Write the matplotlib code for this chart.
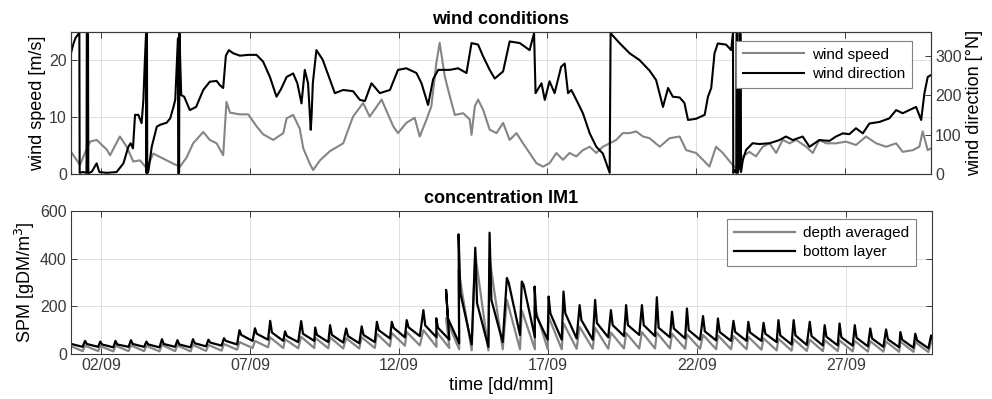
import numpy as np
import matplotlib
matplotlib.use('Agg')
import matplotlib.pyplot as plt
from matplotlib.lines import Line2D

plt.rcParams['font.family'] = ['Liberation Sans', 'DejaVu Sans']

# ---------------- data (time in days since 01/09 00:00) ----------------
ws_t = [0.0, 0.3, 0.45, 0.64, 0.86, 1.2, 1.31, 1.64, 1.87, 2.09, 2.32, 2.54, 2.76, 3.1, 3.44, 3.66,
        3.88, 4.1, 4.44, 4.66, 4.89, 5.11, 5.22, 5.34, 5.67, 5.95, 6.23, 6.45, 6.79, 7.13, 7.24, 7.46,
        7.68, 7.8, 8.02, 8.13, 8.36, 8.69, 9.14, 9.47, 9.81, 10.03, 10.43, 10.82, 10.98, 11.26, 11.54,
        11.71, 11.94, 12.10, 12.27, 12.38, 12.55, 12.72, 12.89, 13.17, 13.39, 13.45, 13.56, 13.67,
        13.84, 14.06, 14.29, 14.51, 14.73, 14.96, 15.18, 15.40, 15.63, 15.85, 16.07, 16.30, 16.52,
        16.74, 16.97, 17.19, 17.42, 17.64, 17.86, 18.09, 18.31, 18.53, 18.76, 18.98, 19.21, 19.43,
        19.77, 20.10, 20.44, 20.66, 20.99, 21.22, 21.44, 21.66, 21.89, 22.17, 22.34, 22.56, 22.78,
        23.0, 23.23, 23.46, 23.68, 23.90, 24.13, 24.35, 24.69, 24.91, 25.13, 25.36, 25.69, 26.03,
        26.36, 26.70, 27.04, 27.37, 27.71, 27.93, 28.27, 28.49, 28.60, 28.77, 28.88]
ws_v = [3.9, 1.6, 3.5, 5.7, 6.0, 4.3, 3.3, 6.6, 4.8, 2.2, 2.4, 1.0, 3.6, 2.7, 1.8, 1.3,
        2.9, 5.4, 7.4, 6.0, 5.4, 3.3, 12.7, 10.8, 10.5, 10.5, 8.4, 7.0, 6.0, 7.2, 9.8, 10.4,
        8.0, 4.5, 1.8, 0.7, 2.4, 4.0, 5.4, 10.1, 12.5, 10.1, 13.1, 8.4, 7.2, 9.0, 9.9,
        6.6, 9.6, 11.9, 19.6, 23.1, 17.2, 13.7, 10.4, 10.7, 9.6, 6.9, 11.9, 13.1,
        11.3, 7.8, 7.2, 9.0, 6.0, 7.2, 5.4, 3.7, 1.9, 1.3, 1.9, 3.7, 2.5,
        3.7, 3.1, 4.2, 4.8, 3.7, 4.8, 5.4, 6.0, 7.2, 7.2, 7.5, 6.6, 6.3,
        4.8, 6.3, 6.6, 4.2, 3.7, 2.5, 1.3, 4.8, 3.7, 1.9, 1.0, 3.1, 3.9,
        3.1, 4.8, 5.4, 3.7, 6.0, 5.4, 6.0, 4.8, 3.7, 6.0, 5.4, 5.4, 5.7,
        5.1, 6.6, 5.4, 4.8, 5.4, 3.9, 4.2, 4.8, 7.5, 4.2, 4.5]

wd_t = [0.0, 0.08, 0.15, 0.22, 0.28, 0.29, 0.40, 0.52, 0.53, 0.57, 0.58, 0.70, 0.86, 0.95, 1.20,
        1.53, 1.76, 1.92, 2.00, 2.08, 2.15, 2.26, 2.37, 2.43, 2.48, 2.52, 2.53, 2.55, 2.56, 2.60,
        2.71, 2.88, 3.00, 3.21, 3.33, 3.44, 3.50, 3.55, 3.59, 3.60, 3.63, 3.64, 3.70, 3.80, 3.99,
        4.20, 4.44, 4.66, 4.89, 5.00, 5.11, 5.20, 5.30, 5.45, 5.67, 5.95, 6.23, 6.45, 6.68, 6.90,
        7.05, 7.24, 7.46, 7.60, 7.74, 7.85, 7.96, 8.05, 8.08, 8.12, 8.24, 8.45, 8.69, 8.86, 9.14,
        9.47, 9.70, 9.87, 10.09, 10.37, 10.71, 10.98, 11.26, 11.60, 11.77, 11.99, 12.16, 12.33,
        12.72, 13.00, 13.28, 13.45, 13.67, 13.84, 14.06, 14.23, 14.51, 14.73, 15.07, 15.40, 15.55,
        15.60, 15.80, 15.91, 16.07, 16.24, 16.46, 16.58, 16.69, 16.80, 16.97, 17.19, 17.42, 17.64,
        17.86, 18.09, 18.12, 18.42, 18.76, 19.09, 19.43, 19.65, 19.88, 20.05, 20.21, 20.44, 20.60,
        20.72, 20.99, 21.28, 21.39, 21.50, 21.61, 21.72, 22.00, 22.17, 22.23, 22.24, 22.30, 22.34,
        22.35, 22.38, 22.39, 22.45, 22.46, 22.49, 22.50, 22.56, 22.67, 22.89, 23.12, 23.46, 23.79,
        24.01, 24.24, 24.57, 24.80, 25.13, 25.47, 25.69, 25.92, 26.14, 26.36, 26.59, 26.81, 27.15,
        27.48, 27.71, 27.93, 28.15, 28.38, 28.55, 28.66, 28.77, 28.86]
wd_d = [307, 330, 345, 352, 358, 3, 5, 3, 358, 355, 2, 6, 27, 5, 3,
        5, 27, 68, 78, 65, 150, 150, 129, 188, 289, 357, 3, 357, 2, 8,
        69, 120, 125, 130, 141, 170, 188, 272, 344, 2, 3, 358, 200, 196, 162,
        170, 213, 234, 236, 225, 218, 300, 314, 306, 300, 302, 302, 285, 246, 196,
        215, 246, 255, 230, 179, 264, 230, 112, 150, 230, 314, 290, 240, 205, 213,
        210, 188, 185, 230, 205, 213, 264, 268, 256, 230, 175, 240, 264,
        264, 268, 256, 332, 328, 298, 264, 242, 260, 336, 332, 314, 357,
        205, 230, 188, 235, 205, 272, 280, 205, 213, 188, 154, 103, 69,
        52, 3, 357, 332, 306, 289, 262, 238, 170, 218, 196, 194, 180,
        137, 140, 150, 196, 218, 306, 331, 328, 314, 357, 3, 10, 3,
        357, 355, 3, 20, 357, 355, 5, 35, 61, 78, 76, 78, 86,
        95, 86, 95, 69, 86, 84, 95, 103, 101, 116, 103, 128, 132,
        141, 162, 154, 162, 170, 137, 205, 246, 250]

# tidal cycles of SPM: time of each spike and values [gDM/m3]
tide_t = [-0.05, 0.47, 0.98, 1.49, 2.01, 2.53, 3.05, 3.57, 4.09, 4.61, 5.13, 5.65, 6.17, 6.68,
          7.18, 7.72, 8.19, 8.69, 9.23, 9.75, 10.26, 10.76, 11.26, 11.82, 12.25, 12.58, 13.0,
          13.56, 14.04, 14.62, 15.12, 15.55, 16.02, 16.52, 17.06, 17.58, 18.11, 18.62, 19.15,
          19.65, 20.16, 20.66, 21.2, 21.7, 22.22, 22.72, 23.23, 23.73, 24.24, 24.78, 25.28,
          25.78, 26.29, 26.81, 27.34, 27.82, 28.32, 28.85]
bl_peak = [55, 55, 52, 55, 58, 52, 62, 58, 62, 60, 66, 100, 108, 139,
           95, 138, 111, 121, 107, 116, 135, 135, 142, 184, 150, 269, 502,
           446, 509, 319, 304, 283, 241, 262, 205, 227, 184, 205, 205,
           238, 177, 191, 159, 149, 139, 135, 131, 142, 142, 135, 121,
           128, 121, 107, 103, 92, 85, 78]
bl_shoulder = [42, 42, 40, 40, 42, 40, 42, 40, 45, 48, 55, 80, 85, 90,
               75, 85, 80, 80, 75, 80, 100, 110, 112, 120, 110, 150, 256,
               213, 227, 300, 290, 160, 170, 171, 142, 130, 121, 121, 121,
               110, 107, 100, 95, 92, 92, 90, 85, 78, 78, 75, 72,
               70, 68, 65, 62, 60, 57, 55]
bl_trough = [30, 30, 28, 30, 30, 28, 30, 28, 32, 35, 40, 55, 60, 55,
             50, 55, 50, 48, 45, 50, 65, 70, 75, 70, 60, 45, 40,
             30, 50, 80, 70, 60, 60, 65, 60, 70, 75, 80, 75,
             70, 65, 60, 57, 55, 55, 55, 50, 40, 38, 36, 36,
             35, 32, 30, 28, 26, 24, 22]
da_peak = [35, 35, 33, 35, 36, 34, 38, 36, 38, 38, 42, 50, 55, 70,
           62, 72, 68, 70, 66, 70, 85, 88, 92, 100, 95, 150, 350,
           420, 400, 227, 184, 198, 156, 129, 114, 110, 90, 88, 92,
           90, 85, 82, 80, 78, 75, 72, 66, 64, 62, 60, 58,
           57, 55, 54, 52, 52, 50, 50]
da_trough = [12, 12, 11, 12, 12, 11, 12, 11, 13, 14, 18, 25, 28, 25,
             24, 25, 24, 23, 23, 25, 32, 35, 36, 30, 25, 20, 15,
             15, 20, 20, 20, 20, 20, 22, 22, 22, 23, 23, 23,
             23, 22, 22, 20, 20, 20, 18, 15, 14, 13, 12, 12,
             11, 10, 10, 9, 9, 8, 8]

tick_days = [1, 6, 11, 16, 21, 26]
tick_labels = ['02/09', '07/09', '12/09', '17/09', '22/09', '27/09']

# ---------------- figure ----------------
GREY = '#858585'
AXC = '#3a3a3a'
fig = plt.figure(figsize=(9.92, 3.99), dpi=100)
ax1 = fig.add_axes([0.0716, 0.5639, 0.8669, 0.3559])
ax2 = ax1.twinx()
ax3 = fig.add_axes([0.0716, 0.1128, 0.8679, 0.3584])

xmax = 28.88

def style(ax):
    for s in ax.spines.values():
        s.set_color(AXC)
        s.set_linewidth(0.8)
    ax.tick_params(direction='in', length=4, width=0.7, colors=AXC,
                   labelsize=11.5, pad=3)
    ax.grid(True, color='#d9d9d9', linewidth=0.6)
    ax.set_axisbelow(True)

# top panel
l1, = ax1.plot(ws_t, ws_v, color=GREY, lw=1.5)
l2, = ax2.plot(wd_t, wd_d, color='black', lw=1.5)
ax1.set_xlim(0, xmax)
ax1.set_ylim(0, 25)
ax1.set_yticks([0, 10, 20])
ax2.set_ylim(0, 360)
ax2.set_yticks([0, 100, 200, 300])
ax1.set_xticks(tick_days)
ax1.set_xticklabels([])
style(ax1)
for s in ax2.spines.values():
    s.set_color(AXC)
    s.set_linewidth(0.8)
ax2.tick_params(direction='in', length=4, width=0.7, colors=AXC, labelsize=11.5, pad=3)
ax1.tick_params(top=True)
ax1.set_ylabel('wind speed [m/s]', fontsize=13, labelpad=2)
ax2.set_ylabel('wind direction [°N]', fontsize=13, labelpad=3)
ax1.set_title('wind conditions', fontsize=13, fontweight='bold', pad=6)
leg1 = ax2.legend([l1, l2], ['wind speed', 'wind direction'], loc='upper right',
                  bbox_to_anchor=(0.978, 0.937), borderaxespad=0, fontsize=11,
                  handlelength=4.0, fancybox=False, framealpha=1, edgecolor='#808080',
                  labelspacing=0.35, borderpad=0.45, handletextpad=0.5)
leg1.get_frame().set_linewidth(0.8)

# bottom panel
bx, by = [], []
gx, gy = [], []
for t, p, s, r in zip(tide_t, bl_peak, bl_shoulder, bl_trough):
    bx += [t, t + 0.06, t + 0.44]
    by += [p, s, r]
for t, p, r in zip(tide_t, da_peak, da_trough):
    gx += [t, t + 0.44]
    gy += [p, r]
l3, = ax3.plot(gx, gy, color=GREY, lw=1.6)
l4, = ax3.plot(bx, by, color='black', lw=1.6)
ax3.set_xlim(0, xmax)
ax3.set_ylim(0, 600)
ax3.set_yticks([0, 200, 400, 600])
ax3.set_xticks(tick_days)
ax3.set_xticklabels(tick_labels)
style(ax3)
ax3.tick_params(top=True, right=True)
ax3.set_ylabel('SPM [gDM/m$^3$]', fontsize=13, labelpad=2)
ax3.set_xlabel('time [dd/mm]', fontsize=13, labelpad=3)
ax3.set_title('concentration IM1', fontsize=13, fontweight='bold', pad=6)
leg2 = ax3.legend([l3, l4], ['depth averaged', 'bottom layer'], loc='upper right',
                  bbox_to_anchor=(0.981, 0.944), borderaxespad=0, fontsize=11,
                  handlelength=4.0, fancybox=False, framealpha=1, edgecolor='#808080',
                  labelspacing=0.35, borderpad=0.45, handletextpad=0.5)
leg2.get_frame().set_linewidth(0.8)

fig.savefig('out.png', dpi=100)
